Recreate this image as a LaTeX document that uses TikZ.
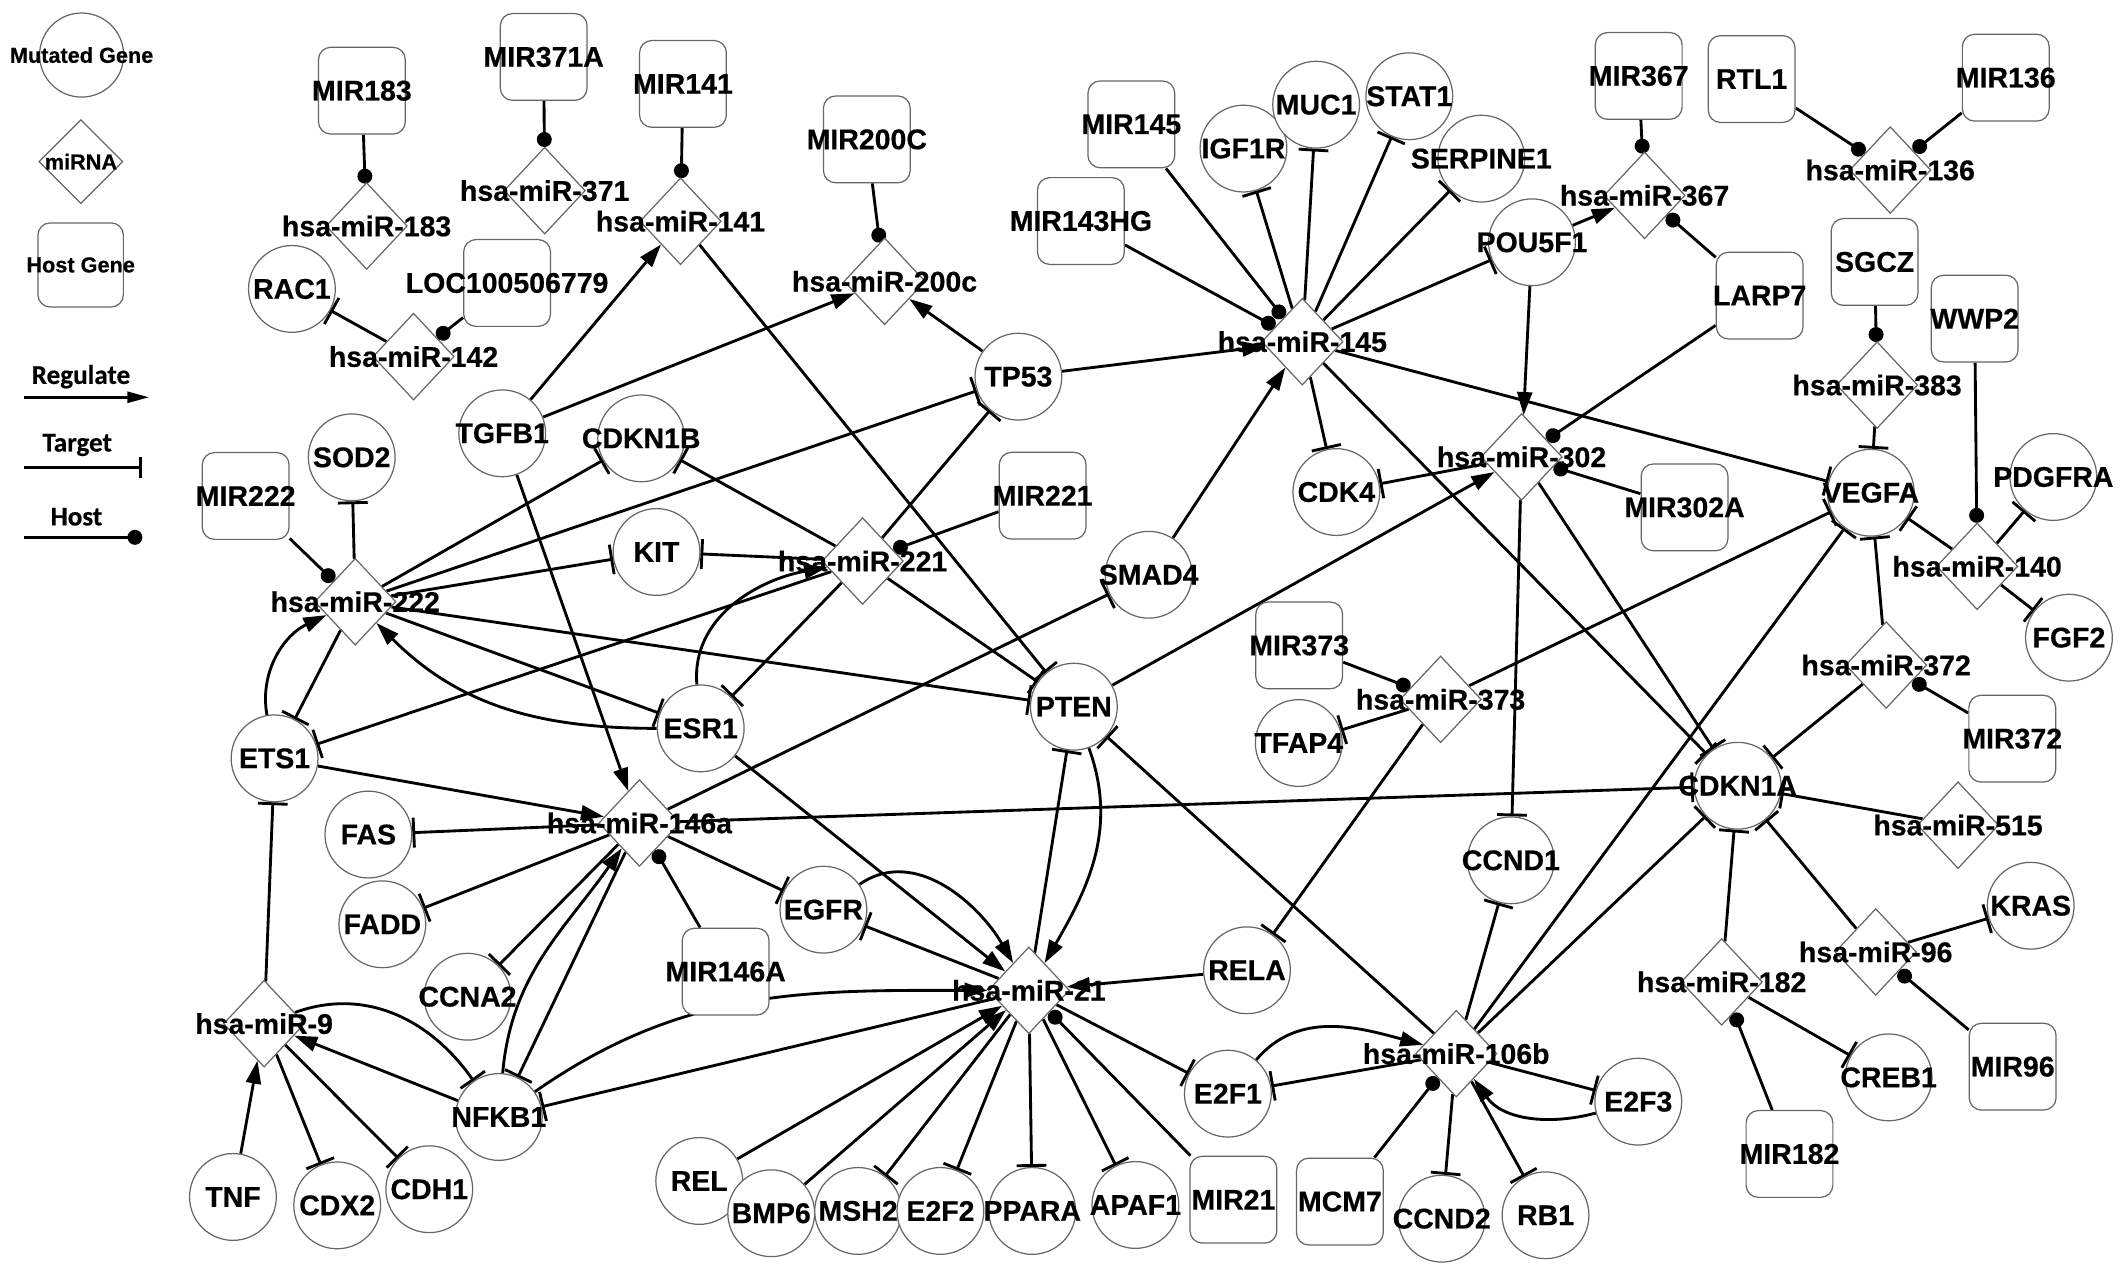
\documentclass[tikz,border=0pt]{standalone}
\usepackage{fontspec}
\setmainfont{Liberation Sans}[BoldFeatures={FakeBold=0.5}]
\newfontfamily\legfont{Carlito}[BoldFeatures={FakeBold=0.4}]
\usetikzlibrary{shapes.geometric,arrows.meta}
\pgfdeclarelayer{bg}
\pgfsetlayers{bg,main}
\newcommand{\zb}[1]{\makebox[0pt]{#1}}
\begin{document}
\begin{tikzpicture}[x=1pt,y=-1pt,
  nd/.style={draw=black!60, line width=0.9pt, fill=white, inner sep=0pt, font=\bfseries\fontsize{21}{24}\selectfont},
  gene/.style={nd, circle, minimum size=64pt},
  mirna/.style={nd, diamond, minimum width=60pt, minimum height=64pt},
  hostg/.style={nd, rectangle, rounded corners=9pt, minimum width=64pt, minimum height=64pt},
  lgfont/.style={font=\bfseries\fontsize{16}{19}\selectfont},
  ed/.style={line width=2.1pt, black},
  reg/.style={ed, -{Triangle[length=17pt,width=11pt]}},
  tgt/.style={ed, -{Bar[width=22pt]}},
  hst/.style={ed, -{Circle[length=11pt]}}
]
\useasboundingbox (0,0) rectangle (1568,942);

% ---------- legend ----------
\node[gene, minimum size=62pt, lgfont] (lgC) at (60.2,40.6) {\zb{Mutated Gene}};
\node[mirna, minimum width=62pt, minimum height=62pt, lgfont] (lgD) at (59.7,119.2) {\zb{miRNA}};
\node[hostg, minimum width=63pt, minimum height=62pt, lgfont] (lgS) at (59.5,195.4) {\zb{Host Gene}};
\node[font=\legfont\bfseries\fontsize{20}{24}\selectfont] (lgR) at (59.7,277.8) {Regulate};
\node[font=\legfont\bfseries\fontsize{20}{24}\selectfont] (lgT) at (56.9,328.2) {Target};
\node[font=\legfont\bfseries\fontsize{20}{24}\selectfont] (lgH) at (56.4,381.1) {Host};
\coordinate (lr1) at (18,293); \coordinate (lr2) at (110,293);
\coordinate (lt1) at (18,344.9); \coordinate (lt2) at (104.6,344.9);
\coordinate (lh1) at (18,396.3); \coordinate (lh2) at (105,396.3);
\draw[ed, -{Triangle[length=16pt,width=8pt]}] (lr1) -- (lr2);
\draw[ed, -{Bar[width=15pt]}] (lt1) -- (lt2);
\draw[hst] (lh1) -- (lh2);

% ---------- mutated genes ----------
\node[gene] (RAC1) at (215.3,213.1) {\zb{RAC1}};
\node[gene] (TGFB1) at (370.4,319.6) {\zb{TGFB1}};
\node[gene] (CDKN1B) at (472.9,323.3) {\zb{CDKN1B}};
\node[gene] (SOD2) at (259.4,337.3) {\zb{SOD2}};
\node[gene] (KIT) at (484.2,407.1) {\zb{KIT}};
\node[gene] (TP53) at (751.1,277.8) {\zb{TP53}};
\node[gene] (SMAD4) at (847.2,423.9) {\zb{SMAD4}};
\node[gene] (ESR1) at (516.8,537.2) {\zb{ESR1}};
\node[gene] (ETS1) at (202.5,559.3) {\zb{ETS1}};
\node[gene] (PTEN) at (792,521.2) {\zb{PTEN}};
\node[gene] (FAS) at (271.7,615.5) {\zb{FAS}};
\node[gene] (FADD) at (282,681.7) {\zb{FADD}};
\node[gene] (EGFR) at (607.3,670.9) {\zb{EGFR}};
\node[gene] (CCNA2) at (344.8,735.1) {\zb{CCNA2}};
\node[gene] (NFKB1) at (367.9,823.8) {\zb{NFKB1}};
\node[gene] (TNF) at (171.8,882.8) {\zb{TNF}};
\node[gene] (CDX2) at (248.7,889) {\zb{CDX2}};
\node[gene] (CDH1) at (316.6,877.1) {\zb{CDH1}};
\node[gene] (REL) at (515.7,871) {\zb{REL}};
\node[gene] (BMP6) at (568.8,894.8) {\zb{BMP6}};
\node[gene] (MSH2) at (632.9,893.1) {\zb{MSH2}};
\node[gene] (E2F2) at (693.6,893.1) {\zb{E2F2}};
\node[gene] (PPARA) at (761.3,893.1) {\zb{PPARA}};
\node[gene] (APAF1) at (837.4,888.7) {\zb{APAF1}};
\node[gene] (RELA) at (919.7,715.6) {\zb{RELA}};
\node[gene] (E2F1) at (905.6,806.6) {\zb{E2F1}};
\node[gene] (CCND1) at (1114.3,634.5) {\zb{CCND1}};
\node[gene] (E2F3) at (1208.3,812.5) {\zb{E2F3}};
\node[gene] (CCND2) at (1063.3,898.8) {\zb{CCND2}};
\node[gene] (RB1) at (1139.9,896.3) {\zb{RB1}};
\node[gene] (TFAP4) at (957.9,548) {\zb{TFAP4}};
\node[gene] (CDK4) at (985.6,362.9) {\zb{CDK4}};
\node[gene] (IGF1R) at (917.1,109.6) {\zb{IGF1R}};
\node[gene] (MUC1) at (970.7,77.2) {\zb{MUC1}};
\node[gene] (STAT1) at (1039.4,71) {\zb{STAT1}};
\node[gene] (SERPINE1) at (1092.5,117) {\zb{SERPINE1}};
\node[gene] (POU5F1) at (1129.9,178.7) {\zb{POU5F1}};
\node[gene] (VEGFA) at (1379.8,363.4) {\zb{VEGFA}};
\node[gene] (PDGFRA) at (1514.4,351.8) {\zb{PDGFRA}};
\node[gene] (FGF2) at (1525.9,470.3) {\zb{FGF2}};
\node[gene] (CDKN1A) at (1281.6,579.5) {\zb{CDKN1A}};
\node[gene] (KRAS) at (1497.7,668) {\zb{KRAS}};
\node[gene] (CREB1) at (1392.9,794.6) {\zb{CREB1}};

% ---------- host genes ----------
\node[hostg] (MIR183) at (266.9,66.9) {\zb{MIR183}};
\node[hostg] (MIR371A) at (401,42) {\zb{MIR371A}};
\node[hostg] (MIR141) at (503.7,61.9) {\zb{MIR141}};
\node[hostg] (MIR200C) at (639.3,102.8) {\zb{MIR200C}};
\node[hostg] (LOC) at (374,208.7) {\zb{LOC100506779}};
\node[hostg] (MIR222) at (181.2,365.8) {\zb{MIR222}};
\node[hostg] (MIR221) at (769,365.6) {\zb{MIR221}};
\node[hostg] (MIR145) at (834.4,91.7) {\zb{MIR145}};
\node[hostg] (MIR143HG) at (797.2,163) {\zb{MIR143HG}};
\node[hostg] (MIR367) at (1208.6,56) {\zb{MIR367}};
\node[hostg] (RTL1) at (1291.9,58.3) {\zb{RTL1}};
\node[hostg] (MIR136) at (1479.3,57.3) {\zb{MIR136}};
\node[hostg] (SGCZ) at (1382.6,193.2) {\zb{SGCZ}};
\node[hostg] (WWP2) at (1456.4,235) {\zb{WWP2}};
\node[hostg] (LARP7) at (1297.8,218) {\zb{LARP7}};
\node[hostg] (MIR302A) at (1242.4,374.2) {\zb{MIR302A}};
\node[hostg] (MIR373) at (958.2,476) {\zb{MIR373}};
\node[hostg] (MIR372) at (1484.1,544.8) {\zb{MIR372}};
\node[hostg] (MIR146A) at (535.2,716.6) {\zb{MIR146A}};
\node[hostg] (MIR21) at (909.7,884.8) {\zb{MIR21}};
\node[hostg] (MCM7) at (988.2,886.2) {\zb{MCM7}};
\node[hostg] (MIR96) at (1484.4,786.7) {\zb{MIR96}};
\node[hostg] (MIR182) at (1319.8,851.1) {\zb{MIR182}};

% ---------- miRNAs ----------
\node[mirna] (m183) at (270.4,166.7) {\zb{hsa-miR-183}};
\node[mirna] (m371) at (401.7,140.6) {\zb{hsa-miR-371}};
\node[mirna] (m141) at (501.9,163.2) {\zb{hsa-miR-141}};
\node[mirna] (m200c) at (652.4,207.5) {\zb{hsa-miR-200c}};
\node[mirna] (m142) at (305,263) {\zb{hsa-miR-142}};
\node[mirna] (m222) at (262,443.8) {\zb{hsa-miR-222}};
\node[mirna] (m221) at (636.2,413.8) {\zb{hsa-miR-221}};
\node[mirna] (m145) at (960.5,252) {\zb{hsa-miR-145}};
\node[mirna] (m367) at (1212.9,144.1) {\zb{hsa-miR-367}};
\node[mirna] (m136) at (1394.1,125.4) {\zb{hsa-miR-136}};
\node[mirna] (m383) at (1384.4,284) {\zb{hsa-miR-383}};
\node[mirna] (m302) at (1122.2,337) {\zb{hsa-miR-302}};
\node[mirna] (m140) at (1458.2,417.7) {\zb{hsa-miR-140}};
\node[mirna] (m372) at (1391.1,490.5) {\zb{hsa-miR-372}};
\node[mirna] (m373) at (1062.5,515.8) {\zb{hsa-miR-373}};
\node[mirna] (m146a) at (471.6,607) {\zb{hsa-miR-146a}};
\node[mirna] (m515) at (1444.1,608.6) {\zb{hsa-miR-515}};
\node[mirna] (m96) at (1383.4,702.1) {\zb{hsa-miR-96}};
\node[mirna] (m182) at (1269.8,724.2) {\zb{hsa-miR-182}};
\node[mirna] (m106b) at (1074,777.1) {\zb{hsa-miR-106b}};
\node[mirna] (m21) at (758.8,730.4) {\zb{hsa-miR-21}};
\node[mirna] (m9) at (194.8,755) {\zb{hsa-miR-9}};

\begin{pgfonlayer}{bg}
% host links
\draw[hst] (MIR183) -- (m183);
\draw[hst] (MIR371A) -- (m371);
\draw[hst] (MIR141) -- (m141);
\draw[hst] (MIR200C) -- (m200c);
\draw[hst] (LOC) -- (m142);
\draw[hst] (MIR222) -- (m222);
\draw[hst] (MIR221) -- (m221);
\draw[hst] (MIR145) -- (m145);
\draw[hst] (MIR143HG) -- (m145);
\draw[hst] (MIR367) -- (m367);
\draw[hst] (LARP7) -- (m367);
\draw[hst] (RTL1) -- (m136);
\draw[hst] (MIR136) -- (m136);
\draw[hst] (SGCZ) -- (m383);
\draw[hst] (WWP2) -- (m140);
\draw[hst] (LARP7) -- (m302);
\draw[hst] (MIR302A) -- (m302);
\draw[hst] (MIR373) -- (m373);
\draw[hst] (MIR372) -- (m372);
\draw[hst] (MIR146A) -- (m146a);
\draw[hst] (MIR21) -- (m21);
\draw[hst] (MCM7) -- (m106b);
\draw[hst] (MIR96) -- (m96);
\draw[hst] (MIR182) -- (m182);

% regulate links
\draw[reg] (TGFB1) -- (m141);
\draw[reg] (TGFB1) -- (m200c);
\draw[reg] (TP53) -- (m200c);
\draw[reg] (TP53) -- (m145);
\draw[reg] (TGFB1) -- (m146a);
\draw[reg] (SMAD4) -- (m145);
\draw[reg] (POU5F1) -- (m367);
\draw[reg] (POU5F1) -- (m302);
\draw[reg] (PTEN) -- (m302);
\draw[reg] (ETS1) to[out=100,in=205] (m222);
\draw[reg] (ESR1) to[out=180,in=-45] (m222);
\draw[reg] (ESR1) to[out=95,in=190] (m221);
\draw[reg] (ETS1) -- (m146a);
\draw[reg] (NFKB1) to[out=85,in=235] (m146a);
\draw[reg] (ESR1) -- (m21);
\draw[reg] (EGFR) to[out=35,in=120] (m21);
\draw[reg] (PTEN) to[out=-70,in=60] (m21);
\draw[reg] (NFKB1) to[out=35,in=180] (m21);
\draw[reg] (REL) -- (m21);
\draw[reg] (BMP6) -- (m21);
\draw[reg] (RELA) -- (m21);
\draw[reg] (TNF) -- (m9);
\draw[reg] (NFKB1) -- (m9);
\draw[reg] (E2F1) to[out=50,in=165] (m106b);
\draw[reg] (E2F3) to[out=195,in=-55] (m106b);

% target links
\draw[tgt] (m142) -- (RAC1);
\foreach \g in {SOD2,CDKN1B,TP53,KIT,PTEN,ESR1,ETS1} \draw[tgt] (m222) -- (\g);
\foreach \g in {KIT,CDKN1B,TP53,ESR1,PTEN,ETS1} \draw[tgt] (m221) -- (\g);
\draw[tgt] (m141) -- (PTEN);
\foreach \g in {IGF1R,MUC1,STAT1,SERPINE1,POU5F1,CDK4,VEGFA,CDKN1A} \draw[tgt] (m145) -- (\g);
\foreach \g in {CDK4,CCND1,CDKN1A} \draw[tgt] (m302) -- (\g);
\draw[tgt] (m383) -- (VEGFA);
\foreach \g in {VEGFA,PDGFRA,FGF2} \draw[tgt] (m140) -- (\g);
\foreach \g in {VEGFA,CDKN1A} \draw[tgt] (m372) -- (\g);
\foreach \g in {TFAP4,RELA,VEGFA} \draw[tgt] (m373) -- (\g);
\draw[tgt] (m515) -- (CDKN1A);
\foreach \g in {FAS,FADD,CCNA2,NFKB1,EGFR,SMAD4,CDKN1A} \draw[tgt] (m146a) -- (\g);
\foreach \g in {ETS1,CDX2,CDH1} \draw[tgt] (m9) -- (\g);
\draw[tgt] (m9) to[out=20,in=125] (NFKB1);
\foreach \g in {PTEN,EGFR,NFKB1,E2F1,MSH2,E2F2,PPARA,APAF1} \draw[tgt] (m21) -- (\g);
\foreach \g in {PTEN,E2F1,CCND1,CCND2,RB1,E2F3,VEGFA,CDKN1A} \draw[tgt] (m106b) -- (\g);
\foreach \g in {CDKN1A,CREB1} \draw[tgt] (m182) -- (\g);
\foreach \g in {CDKN1A,KRAS} \draw[tgt] (m96) -- (\g);
\end{pgfonlayer}
\end{tikzpicture}
\end{document}
